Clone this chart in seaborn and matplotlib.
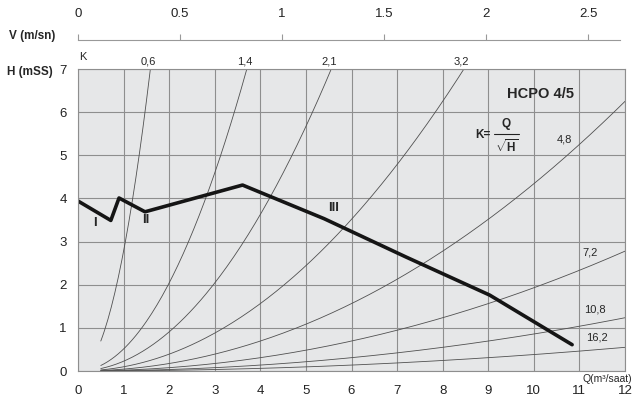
import numpy as np
import pandas as pd
import matplotlib
matplotlib.use("Agg")
import matplotlib.pyplot as plt
import seaborn as sns

# --- data ---
# system curves, K = Q / sqrt(H)
K_VALUES = [0.6, 1.4, 2.1, 3.2, 4.8, 7.2, 10.8, 16.2]
K_LABELS = ["0,6", "1,4", "2,1", "3,2", "4,8", "7,2", "10,8", "16,2"]
Q_START = 0.5

# pump curve (speeds I - II - III joined)
PUMP_Q = [0.0, 0.72, 0.90, 1.47, 3.61, 5.40, 7.20, 9.03, 10.84]
PUMP_H = [3.94, 3.49, 4.01, 3.69, 4.31, 3.53, 2.64, 1.76, 0.61]

Q_TICKS = list(range(0, 13))
H_TICKS = list(range(0, 8))
V_TICKS = [0, 0.5, 1, 1.5, 2, 2.5]
Q_PER_V = 4.476  # m3/saat for 1 m/sn

GRID = "#8e8e8e"
CURVE = "#505050"

sns.set_theme(style="whitegrid")
plt.rcParams["font.family"] = ["Liberation Sans", "DejaVu Sans"]
plt.rcParams["mathtext.fontset"] = "custom"
plt.rcParams["mathtext.rm"] = "Liberation Sans"
plt.rcParams["mathtext.bf"] = "Liberation Sans:bold"

W, H = 635, 403
fig = plt.figure(figsize=(W / 100, H / 100), dpi=100)
ax = fig.add_axes([78 / W, 1 - 371 / H, 547 / W, 302 / H])
ax.set_facecolor("#e6e7e8")

# system curves
q = np.linspace(Q_START, 12, 300)
for k in K_VALUES:
    df = pd.DataFrame({"Q": q, "H": (q / k) ** 2})
    sns.lineplot(data=df, x="Q", y="H", ax=ax, color=CURVE, lw=0.6)

# pump curve
pump = pd.DataFrame({"Q": PUMP_Q, "H": PUMP_H})
sns.lineplot(data=pump, x="Q", y="H", ax=ax, color="#151515", lw=2.6,
             sort=False, estimator=None)

ax.set_xlim(0, 12)
ax.set_ylim(0, 7)
ax.set_xticks(Q_TICKS)
ax.set_yticks(H_TICKS)
ax.set_xlabel("")
ax.set_ylabel("")
ax.grid(True, color=GRID, lw=0.8)
for s in ax.spines.values():
    s.set_color(GRID)
    s.set_linewidth(0.8)
ax.tick_params(axis="x", length=0, pad=10, labelsize=9.5, colors="#222222")
ax.tick_params(axis="y", length=0, pad=8, labelsize=9.5, colors="#222222")

# top velocity axis
sec = ax.secondary_xaxis(1.0963, functions=(lambda x: x / Q_PER_V, lambda v: v * Q_PER_V))
sec.set_xticks(V_TICKS)
sec.set_xticklabels(["0", "0.5", "1", "1.5", "2", "2.5"])
sec.tick_params(direction="out", length=4, width=0.8, color="#999999", pad=10,
                labelsize=9.5, labelcolor="#222222")
sec.spines["top"].set_color("#999999")
sec.spines["top"].set_linewidth(0.8)
sec.spines["top"].set_bounds(0, 2.656)

# K labels
for k, lab in zip(K_VALUES, K_LABELS):
    if k * np.sqrt(7) < 12:
        ax.text(k * np.sqrt(7) - 0.05, 7.18, lab, fontsize=8, ha="center",
                va="center", clip_on=False)
right_pos = {"4,8": (10.68, 5.36), "7,2": (11.23, 2.74),
             "10,8": (11.34, 1.42), "16,2": (11.38, 0.78)}
for lab, (x, y) in right_pos.items():
    ax.text(x, y, lab, fontsize=8, ha="center", va="center")

ax.text(0.02, 7.27, "K", fontsize=8, ha="left", va="center", clip_on=False)
ax.text(10.14, 6.43, "HCPO 4/5", fontsize=10.5, fontweight="bold", ha="center", va="center")

# formula K = Q / sqrt(H)
ax.text(8.89, 5.48, "K=", fontsize=8.5, fontweight="bold", ha="center", va="center")
ax.text(9.40, 5.72, "Q", fontsize=8.5, fontweight="bold", ha="center", va="center")
ax.plot([9.13, 9.68], [5.50, 5.50], color="#222222", lw=0.8)
ax.text(9.41, 5.21, r"$\sqrt{\mathbf{H}}$", fontsize=8.5, ha="center", va="center")

# speed labels
ax.text(0.37, 3.43, "I", fontsize=9.5, fontweight="bold", ha="center", va="center")
ax.text(1.49, 3.49, "II", fontsize=9.5, fontweight="bold", ha="center", va="center")
ax.text(5.60, 3.77, "III", fontsize=9.5, fontweight="bold", ha="center", va="center")

# axis titles
fig.text(30 / W, 1 - 72 / H, "H (mSS)", fontsize=8.5, fontweight="bold", ha="center", va="center")
fig.text(32 / W, 1 - 36 / H, "V (m/sn)", fontsize=8.5, fontweight="bold", ha="center", va="center")
fig.text(632 / W, 1 - 379 / H, "Q(m³/saat)", fontsize=7.5, ha="right", va="center")

fig.savefig("out.png", dpi=100)
